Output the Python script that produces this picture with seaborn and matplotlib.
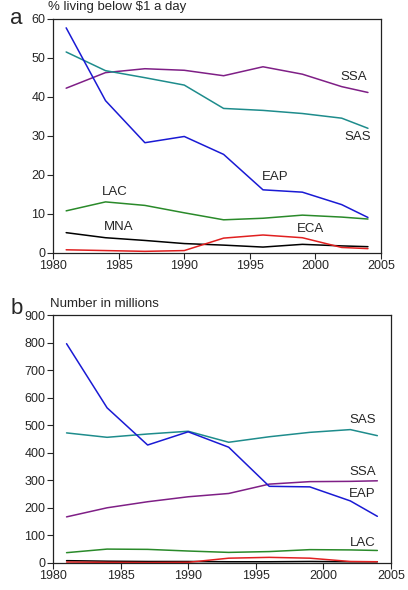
import pandas as pd
import numpy as np
import matplotlib
matplotlib.use("Agg")
import matplotlib.pyplot as plt
import seaborn as sns

sns.set_style("ticks")
plt.rcParams["font.family"] = ["Liberation Sans", "DejaVu Sans"]

# DATA
years = [1981, 1984, 1987, 1990, 1993, 1996, 1999, 2002, 2004]
regions = ["EAP", "SAS", "SSA", "LAC", "MNA", "ECA"]

pct_eap = [57.7, 39.0, 28.2, 29.8, 25.2, 16.1, 15.5, 12.3, 9.0]
pct_sas = [51.5, 46.7, 44.9, 43.0, 37.0, 36.5, 35.7, 34.5, 31.9]
pct_ssa = [42.2, 46.2, 47.2, 46.8, 45.4, 47.7, 45.8, 42.6, 41.1]
pct_lac = [10.7, 13.0, 12.1, 10.2, 8.4, 8.8, 9.6, 9.1, 8.6]
pct_mna = [5.1, 3.8, 3.1, 2.3, 1.9, 1.4, 2.1, 1.7, 1.5]
pct_eca = [0.7, 0.5, 0.3, 0.5, 3.7, 4.5, 3.8, 1.3, 1.0]

num_eap = [796, 563, 428, 476, 420, 278, 276, 225, 169]
num_sas = [472, 456, 468, 478, 438, 458, 474, 484, 462]
num_ssa = [167, 200, 222, 240, 252, 286, 295, 296, 298]
num_lac = [37, 50, 49, 43, 38, 41, 48, 47, 45]
num_mna = [8, 6, 5, 5, 4, 4, 5, 4, 4]
num_eca = [3, 2, 1, 2, 17, 20, 17, 5, 4]

colors = {"EAP": "#1a1ad4", "SAS": "#1e8c8c", "SSA": "#7f1f86",
          "LAC": "#2a8a2a", "MNA": "#000000", "ECA": "#e02020"}


def long_form(series):
    rows = []
    for reg, vals in zip(regions, series):
        for y, v in zip(years, vals):
            rows.append({"year": y, "value": v, "region": reg})
    return pd.DataFrame(rows)


df_a = long_form([pct_eap, pct_sas, pct_ssa, pct_lac, pct_mna, pct_eca])
df_b = long_form([num_eap, num_sas, num_ssa, num_lac, num_mna, num_eca])

fig = plt.figure(figsize=(4.08, 5.90), dpi=100)
ax_a = fig.add_axes([0.130, 0.572, 0.804, 0.396])
ax_b = fig.add_axes([0.130, 0.046, 0.828, 0.420])

for ax, d in [(ax_a, df_a), (ax_b, df_b)]:
    sns.lineplot(data=d, x="year", y="value", hue="region", palette=colors,
                 hue_order=["MNA", "ECA", "LAC", "SSA", "SAS", "EAP"],
                 linewidth=1.1, legend=False, ax=ax)
    ax.set_xlim(1980, 2005)
    ax.set_xticks(range(1980, 2006, 5))
    ax.set_xlabel("")
    ax.set_ylabel("")
    ax.tick_params(direction="out", length=4, width=0.8, labelsize=9, pad=1.5,
                   top=False, right=False)
    for s in ax.spines.values():
        s.set_visible(True)
        s.set_linewidth(0.9)
        s.set_color("#222222")

ax_a.set_ylim(0, 60)
ax_a.set_yticks(range(0, 61, 10))
ax_b.set_ylim(0, 900)
ax_b.set_yticks(range(0, 901, 100))

# labels
fs = 9.5
lab_a = [("SSA", 2002.9, 45.1), ("SAS", 2003.2, 29.7), ("EAP", 1996.9, 19.4),
         ("LAC", 1984.7, 15.5), ("MNA", 1985.0, 6.6), ("ECA", 1999.6, 6.1)]
for t, x, y in lab_a:
    ax_a.text(x, y, t, ha="center", va="center", fontsize=fs)

lab_b = [("SAS", 2002.9, 519), ("SSA", 2002.9, 330), ("EAP", 2002.9, 250),
         ("LAC", 2002.9, 73)]
for t, x, y in lab_b:
    ax_b.text(x, y, t, ha="center", va="center", fontsize=fs)

ax_a.text(-0.015, 1.025, "% living below $1 a day", transform=ax_a.transAxes,
          fontsize=fs, ha="left", va="bottom")
ax_b.text(-0.01, 1.02, "Number in millions", transform=ax_b.transAxes,
          fontsize=fs, ha="left", va="bottom")

fig.text(0.04, 0.968, "a", fontsize=16, ha="center", va="center")
fig.text(0.04, 0.477, "b", fontsize=16, ha="center", va="center")

fig.savefig("out.png", dpi=100)
